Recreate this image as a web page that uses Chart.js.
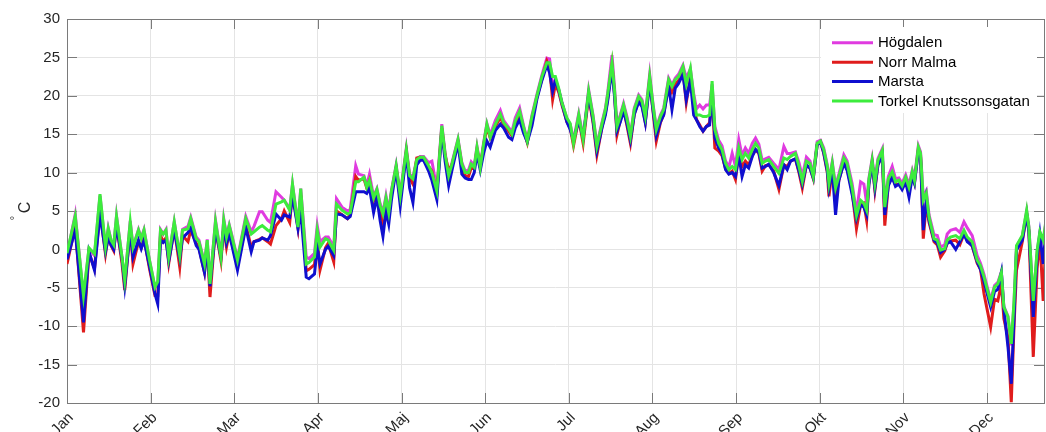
<!DOCTYPE html>
<html>
<head>
<meta charset="utf-8">
<title>Dygnsmedeltemperatur</title>
<script src="https://cdn.jsdelivr.net/npm/chart.js@4.4.1/dist/chart.umd.min.js"></script>
<style>
  html, body { margin: 0; padding: 0; background: #ffffff; }
  canvas { display: block; }
</style>
</head>
<body>
<canvas id="c" width="1046" height="432"></canvas>
<script>
// Day of year (0 = 1 Jan) for each reading
const days = [
  0,3,6,8,10,12,14,15,16,17,18,20,21,23,24,26,27,28,30,32,33,34,35,36,37,39,41,42,44,45,47,48,50,51,52,
  54,56,57,58,59,60,62,65,67,68,70,71,73,74,76,78,79,81,82,84,85,87,88,90,91,92,94,95,97,98,100,102,103,105,106,108,109,110,
  111.5,112.7,113.9,114.9,116,117,118,119.7,121.2,123.4,124.6,125.8,127.2,128.4,129.7,131.5,132.7,134.5,136.3,137.5,138.8,140,142.2,143.6,144.8,146,147,148.1,149.1,150.3,151.5,152.7,153.9,155.8,157.6,158.8,160.6,161.8,163,164.6,
  166,167.4,169.1,170.9,172.7,174.5,175.5,176.6,177.6,178.8,180,181.8,183,184.2,186.1,187.7,189.7,191.3,192.7,194.6,195.8,196.6,198.2,199.1,200,201.2,202.4,203.7,204.9,206.3,207.9,209.1,210.3,211.9,213.1,214.3,215.8,217,218.8,220,221.2,222.4,224,225.2,226.7,227.9,228.9,
  230.1,231.3,232.5,233.7,234.6,235.6,237,238.2,239.5,240.7,241.9,243.1,244.3,245.5,246.7,247.9,249.2,250.4,251.6,252.8,254,255.2,257,258.9,260.7,261.9,263.1,264.9,266.2,267.4,268.9,270.2,271.4,272.8,274,275.2,276.5,277.1,278.3,279.5,280.7,282.5,283.7,285.5,287.1,
  288.6,289.8,290.8,291.6,292.8,293.8,294.9,296.5,297.4,298.7,300.1,301.3,302.5,303.7,305,306.2,307.4,308.2,309.6,310.4,311.4,312.5,313.5,315.3,316.5,317.7,319.2,320.1,321.3,323.2,324.7,326.2,327.4,329.2,331,332.2,333.5,335.9,337.3,338.5,339.8,340.7,342.2,343.4,344.4,345.3,347.4,349,349.8,351.4,352.8,353.8,355,356.2
];

// Daily mean temperature, °C, per station
const hogdalen = [
  -0.8,4.6,-6.2,0.1,-0.8,7.0,0.2,2.8,1.2,0.5,4.4,-1.0,-4.2,3.7,0.3,2.6,1.5,2.6,-1.4,-5.0,-4.5,2.6,2.0,2.6,-1.0,3.6,-0.8,2.6,3.0,4.2,1.6,1.2,-1.8,1.3,-4.5,
  3.8,-0.8,4.0,1.8,3.2,1.8,-1.2,4.3,2.3,3.0,4.9,4.9,3.8,3.5,7.5,6.8,6.4,5.3,8.5,3.2,7.9,-1.0,-1.2,-0.5,3.1,1.0,1.6,1.6,0.3,6.6,5.5,5.0,5.2,10.9,9.8,9.6,8.3,9.8,
  6.9,7.9,5.9,4.8,7.0,5.0,7.7,11.0,7.2,13.2,9.8,9.4,11.8,12.1,12.1,11.3,11.5,7.9,16.3,12.6,9.8,11.3,14.4,11.3,10.2,10.3,11.4,10.9,13.4,11.0,13.9,16.4,14.9,16.8,18.1,16.8,15.9,15.3,17.1,18.4,
  16.2,14.2,17.5,20.2,22.7,24.9,24.8,21.5,22.0,20.8,19.2,17.0,16.3,14.2,17.7,14.6,20.8,17.5,13.6,16.6,18.4,20.3,25.3,21.2,16.2,17.5,19.0,17.2,14.9,18.4,20.1,19.5,17.5,22.8,19.0,15.8,17.5,18.4,22.3,21.4,22.3,22.8,24.0,22.3,23.5,20.3,18.3,
  18.8,18.3,18.8,18.8,21.5,16.0,14.2,13.5,11.5,10.7,12.5,10.8,14.3,12.2,13.2,12.5,13.8,14.5,13.7,11.6,11.8,12.0,11.2,10.4,13.4,12.5,12.5,12.7,11.3,9.5,12.0,11.5,9.8,14.0,14.2,13.2,11.0,9.0,11.4,8.3,9.8,12.3,11.5,8.6,4.8,
  8.8,8.5,6.0,9.2,11.8,9.0,11.8,13.1,6.0,9.5,10.8,9.2,9.3,8.6,9.7,8.4,10.3,9.3,13.5,12.7,6.8,7.6,4.5,1.9,1.8,0.3,0.6,2.0,2.5,2.7,2.2,3.6,2.8,1.8,-0.8,-1.8,-3.3,-6.6,-4.7,-4.3,-2.9,-7.4,-8.7,-12.5,-7.0,0.4,1.7,5.0,3.0,-6.8,-0.3,2.2,1.0,4.0
];
const norrMalma = [
  -1.9,3.0,-10.8,-0.5,-2.5,5.0,-0.6,1.8,0.5,-0.2,3.2,-1.8,-5.3,2.8,-1.9,1.0,0.2,1.5,-2.5,-6.0,-6.0,1.8,1.0,1.5,-1.8,2.8,-2.3,1.8,1.0,2.5,0.8,0.2,-3.0,0.5,-6.2,
  2.8,-1.5,3.0,0.3,2.2,0.8,-2.2,3.2,0.3,1.0,1.3,1.5,1.0,0.7,3.1,4.0,5.0,3.5,7.5,2.8,7.0,-2.8,-2.6,-2.0,1.5,-2.7,0.2,0.8,-1.6,5.0,4.5,4.0,4.5,9.5,9.0,9.2,8.0,9.0,
  6.3,7.4,5.0,3.5,6.0,4.4,7.3,10.6,6.6,12.8,9.3,8.5,11.9,12.0,11.9,10.8,10.2,7.3,15.8,12.2,10.3,11.0,14.0,10.8,9.6,9.5,10.6,10.5,13.0,10.7,13.5,16.0,14.5,16.0,17.2,16.2,15.4,14.8,16.3,17.6,
  15.6,13.9,17.0,19.8,22.2,24.5,23.5,19.5,21.5,20.5,18.8,16.6,15.8,13.5,17.0,13.8,20.0,16.5,12.3,16.0,17.8,19.5,24.0,20.3,14.9,16.8,18.3,16.0,13.8,17.6,19.4,18.8,16.6,22.0,18.0,14.1,16.5,17.6,21.6,20.5,21.5,22.0,23.3,19.1,22.5,19.0,16.9,
  16.2,15.4,16.0,16.5,20.0,13.2,12.8,12.2,10.5,9.9,10.2,9.1,12.5,10.8,11.5,11.0,12.2,13.0,12.5,10.2,10.9,11.0,10.2,7.8,11.0,10.8,11.5,11.8,10.0,8.0,11.0,10.6,9.2,13.6,14.0,12.5,10.0,6.9,10.5,6.5,9.0,11.4,10.5,7.6,2.7,
  5.8,6.0,3.8,8.5,11.3,7.7,11.0,12.4,3.1,8.5,9.5,8.4,8.5,8.0,8.8,7.8,9.7,8.7,13.0,12.3,1.4,6.0,3.5,1.0,0.6,-1.0,-0.2,0.8,1.1,1.2,0.6,2.0,1.2,0.4,-1.8,-2.6,-5.8,-10.1,-6.5,-6.7,-4.5,-9.0,-11.5,-19.9,-10.0,-2.7,1.0,4.6,2.3,-14.0,-2.5,1.5,-6.7,3.0
];
const marsta = [
  -1.3,2.5,-9.5,-0.3,-2.7,4.6,-0.3,1.5,0.6,0.0,3.0,-1.2,-4.7,2.5,-1.0,1.2,0.1,1.2,-2.2,-5.8,-7.1,1.2,0.9,1.2,-1.5,2.5,-1.2,1.5,2.2,2.8,0.5,0.0,-3.0,0.3,-4.8,
  2.6,-1.0,2.8,0.8,2.0,0.5,-2.7,2.9,-0.3,1.0,1.2,1.5,1.2,1.8,4.6,3.8,4.5,4.2,7.0,2.7,5.0,-3.6,-3.8,-3.2,0.3,-1.9,0.0,0.4,-0.8,4.6,4.5,4.0,4.3,7.5,7.5,7.5,7.3,8.0,
  4.8,6.8,3.7,1.7,5.0,3.3,6.5,10.5,5.7,12.5,8.0,6.1,11.0,11.6,11.6,10.2,9.0,6.5,15.5,11.5,8.3,10.3,13.8,9.8,9.3,9.1,9.1,10.0,12.5,10.3,12.5,14.1,13.3,15.5,16.3,15.8,14.6,14.3,15.8,16.9,
  15.2,14.0,16.1,19.6,22.0,24.0,23.0,20.6,22.0,20.8,19.0,16.6,15.6,14.2,16.8,14.5,20.2,16.8,12.8,15.9,17.5,19.3,23.5,20.0,15.4,16.6,18.0,16.3,14.2,17.6,19.2,18.6,16.5,21.8,18.2,14.8,16.6,17.5,21.3,18.2,21.0,21.6,22.8,19.5,22.0,17.5,16.9,
  16.0,15.4,16.0,16.2,20.5,14.5,13.2,12.5,10.4,9.8,10.0,9.5,12.3,9.5,11.0,10.6,12.1,13.0,12.6,10.6,10.8,11.1,10.0,8.3,11.0,10.4,11.5,11.8,10.2,8.5,11.0,10.6,9.3,13.6,14.0,12.6,10.2,8.0,10.4,4.5,9.0,11.2,10.3,7.2,4.0,
  5.8,5.5,4.5,8.4,11.2,8.0,11.0,12.3,4.5,8.3,9.4,8.2,8.5,7.8,8.8,6.8,9.5,8.6,12.8,12.0,2.5,6.5,3.8,1.2,0.8,-0.4,0.0,0.8,1.0,0.0,1.0,2.0,1.0,0.5,-1.6,-2.6,-4.2,-7.5,-5.5,-5.2,-3.0,-7.7,-12.7,-17.5,-9.0,-0.1,1.2,4.6,2.3,-8.8,-1.0,2.0,-1.9,3.5
];
const torkel = [
  -0.5,4.3,-6.0,0.2,-0.6,7.2,0.3,2.7,1.2,0.6,4.3,-1.0,-4.0,3.6,0.3,2.5,1.4,2.5,-1.4,-4.9,-4.2,2.5,2.0,2.5,-1.0,3.6,-0.8,2.5,2.7,4.0,1.4,1.0,-1.9,1.2,-4.5,
  3.6,-1.0,3.8,1.6,3.1,1.6,-1.4,4.0,2.0,2.3,2.9,3.1,2.5,2.3,5.9,6.2,6.4,5.1,8.5,2.9,7.9,-1.9,-1.7,-1.0,2.5,0.3,1.4,1.2,-0.1,5.9,5.1,4.6,4.8,8.8,8.8,9.4,8.1,9.0,
  6.7,7.8,5.7,4.6,6.7,4.8,7.6,10.9,7.0,13.0,9.6,9.2,11.7,12.0,12.0,10.9,10.0,7.6,16.1,12.4,9.6,11.1,14.3,11.1,10.0,10.0,11.1,10.7,13.3,10.7,13.7,16.3,14.6,16.3,17.6,16.5,15.7,15.0,16.7,18.0,
  16.0,14.1,17.3,20.0,22.5,24.3,24.3,22.5,22.5,21.0,19.1,17.1,16.4,13.8,17.5,14.3,20.6,17.3,13.4,16.4,18.2,20.1,24.3,20.8,16.0,17.3,18.8,16.9,14.7,18.2,19.9,19.3,17.3,22.5,18.8,15.6,17.3,18.2,22.1,21.2,22.1,22.5,23.8,21.5,23.6,19.9,17.5,
  17.5,17.3,17.3,17.5,21.9,15.6,13.8,13.0,11.2,10.4,10.8,10.4,13.2,11.7,12.5,11.9,13.0,13.8,13.2,11.2,11.5,11.7,10.8,9.9,11.9,11.7,12.1,12.5,10.8,8.9,11.5,11.2,9.5,13.8,14.1,13.0,10.8,8.6,11.2,8.0,9.5,11.9,11.2,8.1,4.4,
  6.4,6.0,5.1,9.0,11.6,8.6,11.6,12.9,5.5,9.2,10.1,8.8,9.0,8.3,9.4,8.1,10.1,9.0,13.3,12.5,6.4,7.3,4.2,1.4,1.2,-0.1,0.1,1.2,1.6,1.8,1.4,2.5,1.6,1.0,-1.4,-2.1,-3.6,-6.9,-4.9,-4.5,-3.0,-7.5,-8.8,-12.3,-6.7,0.5,1.8,5.1,2.9,-6.7,-0.1,2.3,1.2,4.2
];

// Axis tick labels
const monthLabels = ['Jan','Feb','Mar','Apr','Maj','Jun','Jul','Aug','Sep','Okt','Nov','Dec'];
const yTicks = [-20,-15,-10,-5,0,5,10,15,20,25,30];

const stationNames = ['Högdalen','Norr Malma','Marsta','Torkel Knutssonsgatan'];
const stationColors = ['#e03be0','#e01c1c','#0f0fcf','#3dec3d'];

const monthLength = 365 / 12;
const monthPos = monthLabels.map((_, i) => i * monthLength);

const gridColor = '#e4e4e4';
const frameColor = '#7a7a7a';
const textColor = '#262626';
const fontFamily = '"Liberation Sans", Arial, Helvetica, sans-serif';
Chart.defaults.font.family = fontFamily;

const series = [hogdalen, norrMalma, marsta, torkel];
const datasets = series.map((vals, k) => ({
  label: stationNames[k],
  data: vals.map((v, i) => ({ x: days[i], y: v })),
  borderColor: stationColors[k],
  backgroundColor: stationColors[k],
  borderWidth: 3,
  pointRadius: 0,
  pointHoverRadius: 0,
  tension: 0,
  fill: false,
  // later stations are drawn on top
  order: series.length - 1 - k
}));

// Box around the plot area with inward tick marks on all four sides
const axesBox = {
  id: 'axesBox',
  beforeDatasetsDraw(chart) {
    const { ctx, chartArea: a, scales } = chart;
    const len = 10;
    ctx.save();
    ctx.strokeStyle = frameColor;
    ctx.lineWidth = 1;
    ctx.beginPath();
    scales.y.ticks.forEach(t => {
      const py = Math.round(scales.y.getPixelForValue(t.value)) + 0.5;
      ctx.moveTo(a.left, py); ctx.lineTo(a.left + len, py);
      ctx.moveTo(a.right, py); ctx.lineTo(a.right - len, py);
    });
    scales.x.ticks.forEach(t => {
      const px = Math.round(scales.x.getPixelForValue(t.value)) + 0.5;
      ctx.moveTo(px, a.bottom); ctx.lineTo(px, a.bottom - len);
      ctx.moveTo(px, a.top); ctx.lineTo(px, a.top + len);
    });
    ctx.stroke();
    ctx.strokeRect(Math.round(a.left) + 0.5, Math.round(a.top) + 0.5,
                   Math.round(a.right - a.left), Math.round(a.bottom - a.top));
    ctx.restore();
  }
};

// Legend placed inside the plot, top right
const insideLegend = {
  id: 'insideLegend',
  afterDatasetsDraw(chart) {
    const { ctx } = chart;
    const x0 = 832, x1 = 873, tx = 878, y0 = 42.7, dy = 19.45;
    ctx.save();
    ctx.fillStyle = '#ffffff';
    ctx.fillRect(821, 27, 216, 86);
    ctx.font = '15px ' + fontFamily;
    ctx.textBaseline = 'middle';
    ctx.textAlign = 'left';
    chart.data.datasets.forEach((ds, i) => {
      const y = y0 + i * dy;
      ctx.strokeStyle = ds.borderColor;
      ctx.lineWidth = 3;
      ctx.beginPath();
      ctx.moveTo(x0, y); ctx.lineTo(x1, y);
      ctx.stroke();
      ctx.fillStyle = '#000000';
      ctx.fillText(ds.label, tx, y + 0.5);
    });
    ctx.restore();
  }
};

// Rotated y-axis title with a raised degree sign
const yTitle = {
  id: 'yTitle',
  afterDraw(chart) {
    const { ctx, chartArea: a } = chart;
    ctx.save();
    ctx.translate(24, (a.top + a.bottom) / 2);
    ctx.rotate(-Math.PI / 2);
    ctx.fillStyle = textColor;
    ctx.textAlign = 'center';
    ctx.textBaseline = 'alphabetic';
    ctx.font = '16px ' + fontFamily;
    ctx.fillText('C', 3.5, 5.8);
    ctx.font = '11px ' + fontFamily;
    ctx.fillText('°', -7, -6.5);
    ctx.restore();
  }
};

new Chart(document.getElementById('c'), {
  type: 'line',
  data: { datasets },
  options: {
    responsive: false,
    devicePixelRatio: 1,
    animation: false,
    events: [],
    layout: { padding: { top: 19, right: 2, bottom: 0, left: 0 } },
    plugins: {
      legend: { display: false },
      tooltip: { enabled: false },
      title: { display: false }
    },
    scales: {
      x: {
        type: 'linear',
        min: 0,
        max: 355.3,
        afterBuildTicks: s => { s.ticks = monthPos.map(v => ({ value: v })); },
        afterFit: s => { s.height = 29; },
        grid: { color: gridColor, drawTicks: false, lineWidth: 1 },
        border: { display: false },
        ticks: {
          autoSkip: false,
          minRotation: 45,
          maxRotation: 45,
          padding: 6,
          labelOffset: 4,
          color: textColor,
          font: { size: 15 },
          callback: (v, i) => monthLabels[i]
        }
      },
      y: {
        type: 'linear',
        min: -20,
        max: 30,
        afterBuildTicks: s => { s.ticks = yTicks.map(v => ({ value: v })); },
        afterFit: s => { s.width = 67; },
        grid: { color: gridColor, drawTicks: false, lineWidth: 1 },
        border: { display: false },
        ticks: {
          padding: 7,
          color: textColor,
          font: { size: 15 },
          callback: v => String(v)
        }
      }
    }
  },
  plugins: [axesBox, insideLegend, yTitle]
});
</script>
</body>
</html>
